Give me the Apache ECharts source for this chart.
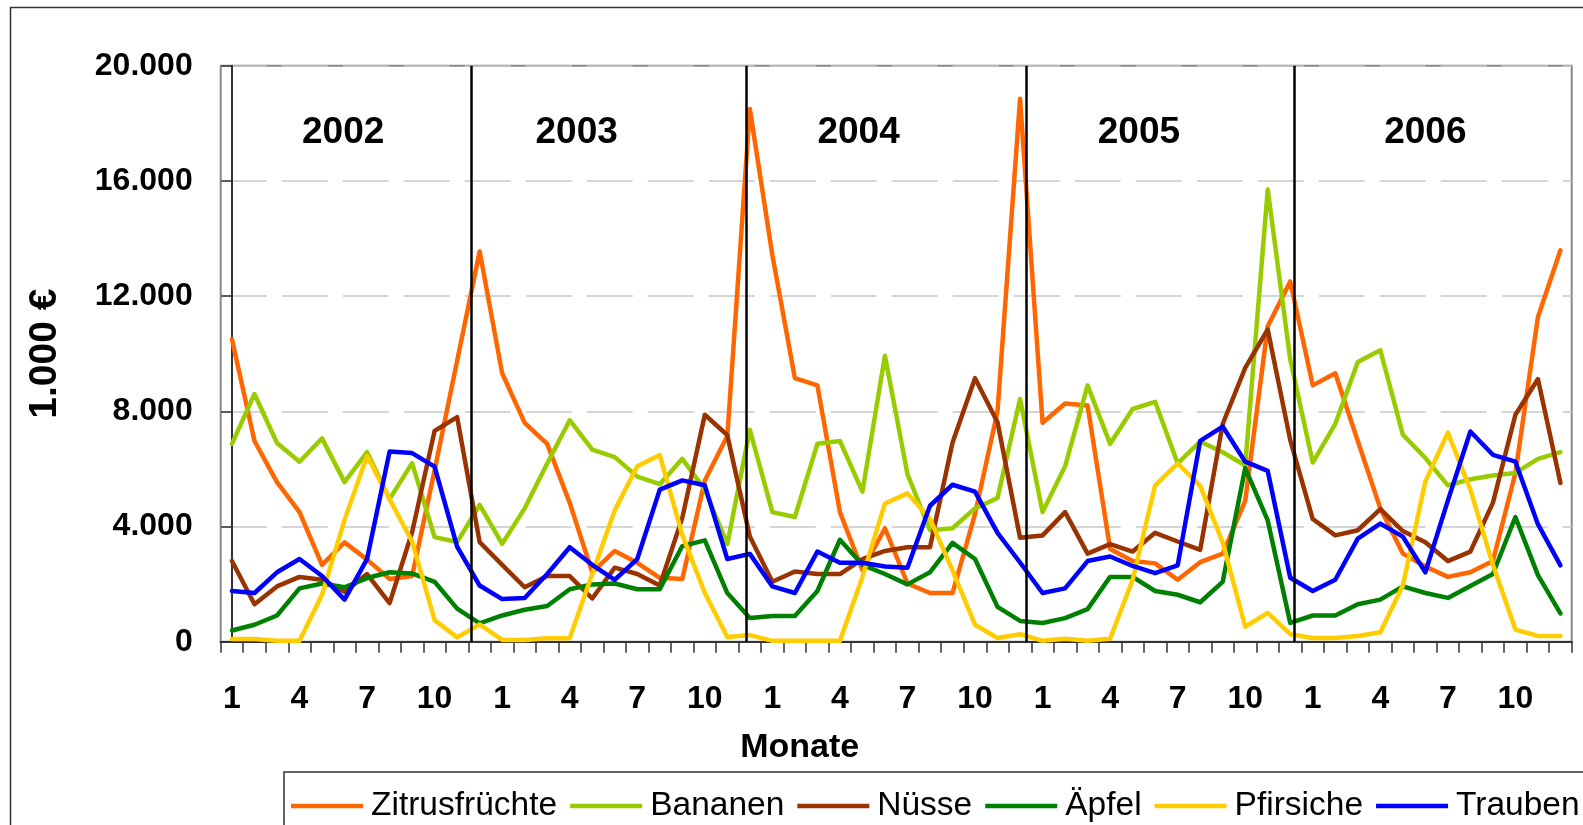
<!DOCTYPE html>
<html>
<head>
<meta charset="utf-8">
<script src="https://cdn.jsdelivr.net/npm/echarts@6/dist/echarts.min.js"></script>
<style>
html,body{margin:0;padding:0;background:#fff;}
#chart{width:1583px;height:825px;}
</style>
</head>
<body>
<div id="chart"></div>
<script>
var years = ['2002', '2003', '2004', '2005', '2006'];
var months = [1, 2, 3, 4, 5, 6, 7, 8, 9, 10, 11, 12];
var yTicks = [0, 4000, 8000, 12000, 16000, 20000];

var zitrus = [
  10500, 6970, 5540, 4500, 2670, 3450, 2850, 2180, 2280, 5950, 9750, 13550,
  9320, 7600, 6870, 4820, 2410, 3150, 2740, 2220, 2180, 5600, 7140, 18500,
  13420, 9150, 8900, 4500, 2480, 3940, 2020, 1690, 1690, 4430, 8000, 18850,
  7600, 8270, 8200, 3220, 2800, 2720, 2150, 2760, 3060, 4890, 10950, 12510,
  8900, 9320, 6970, 4630, 3060, 2610, 2250, 2410, 2800, 5860, 11270, 13590
];
var bananen = [
  6870, 8600, 6900, 6250, 7060, 5540, 6580, 4950, 6200, 3630, 3460, 4750,
  3400, 4630, 6190, 7690, 6670, 6410, 5730, 5470, 6350, 5280, 3390, 7360,
  4500, 4330, 6870, 6970, 5210, 9930, 5820, 3870, 3940, 4630, 4990, 8430,
  4500, 6090, 8900, 6870, 8080, 8330, 6190, 6950, 6580, 6120, 15700, 9800,
  6220, 7560, 9710, 10120, 7190, 6380, 5430, 5640, 5770, 5860, 6350, 6580
];
var nuesse = [
  2800, 1300, 1920, 2250, 2150, 1730, 2350, 1340, 3800, 7320, 7800, 3460,
  2670, 1890, 2280, 2280, 1500, 2570, 2350, 1950, 4300, 7880, 7170, 3650,
  2080, 2440, 2350, 2350, 2870, 3150, 3280, 3280, 6910, 9150, 7620, 3610,
  3690, 4500, 3060, 3390, 3130, 3780, 3480, 3190, 7560, 9510, 10840, 7000,
  4260, 3690, 3870, 4600, 3840, 3450, 2800, 3130, 4820, 7880, 9120, 5510
];
var aepfel = [
  390, 590, 910, 1850, 2020, 1890, 2210, 2410, 2370, 2080, 1150, 640,
  910, 1110, 1240, 1820, 1990, 2020, 1820, 1820, 3320, 3520, 1690, 820,
  890, 890, 1760, 3540, 2670, 2350, 1990, 2410, 3430, 2870, 1210, 720,
  650, 820, 1130, 2250, 2250, 1760, 1630, 1370, 2080, 6030, 4210, 650,
  910, 910, 1300, 1460, 1920, 1690, 1520, 1930, 2350, 4330, 2310, 980
];
var pfirsiche = [
  90, 90, 30, 30, 1630, 4230, 6450, 4950, 3480, 750, 150, 600,
  60, 60, 120, 120, 2350, 4560, 6090, 6480, 3710, 1690, 160, 230,
  30, 30, 30, 30, 2250, 4800, 5150, 4270, 2480, 590, 130, 260,
  30, 100, 30, 100, 2150, 5430, 6190, 5410, 3450, 520, 1000, 260,
  130, 130, 200, 330, 1950, 5560, 7260, 5280, 2670, 420, 200, 200
];
var trauben = [
  1760, 1690, 2410, 2870, 2280, 1460, 2870, 6600, 6550, 6080, 3300, 1950,
  1480, 1520, 2350, 3280, 2670, 2150, 2870, 5280, 5600, 5430, 2870, 3050,
  1920, 1690, 3130, 2740, 2740, 2610, 2570, 4720, 5450, 5210, 3780, 2750,
  1690, 1850, 2800, 2960, 2630, 2380, 2650, 6970, 7470, 6250, 5930, 2220,
  1760, 2150, 3580, 4100, 3650, 2410, 4900, 7300, 6490, 6250, 4080, 2650
];

var seriesNames = ['Zitrusfrüchte', 'Bananen', 'Nüsse', 'Äpfel', 'Pfirsiche', 'Trauben'];
var seriesData = [zitrus, bananen, nuesse, aepfel, pfirsiche, trauben];
var colors = ['#FF6600', '#99CC00', '#993300', '#008000', '#FFCC00', '#0000FF'];

var categories = [];
years.forEach(function (y) { months.forEach(function (m) { categories.push(y + '-' + m); }); });

// layout (position of year separators and year titles in category-index units)
var sepPos = [10.61, 22.86, 35.28, 47.16];
var yearPos = [4.94, 15.31, 27.83, 40.28, 53.0];
var yearLabelY = 17670;

var FONT = '"Liberation Sans", Arial, sans-serif';

var series = seriesNames.map(function (n, k) {
  return {
    name: n, type: 'line', data: seriesData[k], symbol: 'none', showSymbol: false,
    xAxisIndex: 0, yAxisIndex: 0,
    lineStyle: { color: colors[k], width: 4.5, join: 'round', cap: 'round' },
    itemStyle: { color: colors[k] },
    emphasis: { disabled: true }, animation: false
  };
});
series.push({
  name: 'years', type: 'line', xAxisIndex: 1, yAxisIndex: 0, data: [], silent: true, animation: false,
  markLine: {
    silent: true, symbol: ['none', 'none'], animation: false,
    label: { show: false },
    lineStyle: { color: '#000', width: 2.5, type: 'solid' },
    data: sepPos.map(function (p) { return { xAxis: p }; })
  },
  markPoint: {
    silent: true, animation: false, symbol: 'rect', symbolSize: 1,
    itemStyle: { color: 'rgba(0,0,0,0)' },
    label: { show: true, position: 'inside', formatter: '{b}', color: '#000', fontSize: 37, fontWeight: 'bold', fontFamily: FONT },
    data: years.map(function (y, k) { return { name: y, coord: [yearPos[k], yearLabelY] }; })
  }
});

var chart = echarts.init(document.getElementById('chart'), null, { renderer: 'canvas' });
chart.setOption({
  animation: false,
  backgroundColor: '#fff',
  textStyle: { fontFamily: FONT },
  graphic: [{
    type: 'rect', silent: true, z: -10,
    shape: { x: 10.5, y: 7.5, width: 1700, height: 1000 },
    style: { fill: 'none', stroke: '#333', lineWidth: 1.5 }
  }],
  grid: {
    left: 220.7, right: 11.3, top: 65.7, bottom: 183.3,
    show: true, borderColor: '#888', borderWidth: 2, backgroundColor: 'transparent'
  },
  legend: {
    data: seriesNames, left: 284, top: 772, width: 1400,
    padding: [17, 12, 12, 7], itemGap: 13, itemWidth: 72, itemHeight: 4.5, icon: 'rect',
    borderColor: '#333', borderWidth: 1.5, backgroundColor: '#fff',
    textStyle: { fontSize: 33.5, color: '#000', fontFamily: FONT, padding: [0, 0, 0, 3] },
    selectedMode: false
  },
  xAxis: [{
    type: 'category', data: categories, boundaryGap: true, gridIndex: 0,
    axisLine: { show: true, lineStyle: { color: '#333', width: 2 } },
    axisTick: { show: true, interval: 0, length: 11, lineStyle: { color: '#333', width: 1.5 } },
    axisLabel: {
      interval: 2, margin: 41, color: '#000', fontSize: 32, fontWeight: 'bold', fontFamily: FONT,
      formatter: function (v) { return v.split('-')[1]; }
    },
    splitLine: { show: false },
    name: 'Monate', nameLocation: 'middle', nameGap: 89,
    nameTextStyle: { fontSize: 34, fontWeight: 'bold', color: '#000', fontFamily: FONT, padding: [0, 193, 0, 0] }
  }, {
    type: 'value', min: -0.5, max: 59.5, show: false, gridIndex: 0,
    axisLine: { show: false }, axisTick: { show: false }, axisLabel: { show: false }, splitLine: { show: false }
  }],
  yAxis: {
    type: 'value', min: yTicks[0], max: yTicks[yTicks.length - 1], interval: yTicks[1] - yTicks[0],
    axisLine: { show: true, lineStyle: { color: '#333', width: 2 } },
    axisTick: { show: true, length: 11, lineStyle: { color: '#333', width: 1.5 } },
    axisLabel: {
      margin: 28, color: '#000', fontSize: 32, fontWeight: 'bold', fontFamily: FONT,
      formatter: function (v) { return v === 0 ? '0' : (v / 1000) + '.000'; }
    },
    splitLine: { show: true, lineStyle: { color: '#c8c8c8', width: 1.5, type: [46, 15] } },
    name: '1.000 €', nameLocation: 'middle', nameGap: 156, nameRotate: 90,
    nameTextStyle: { fontSize: 39, fontWeight: 'bold', color: '#000', fontFamily: FONT }
  },
  series: series
});
</script>
</body>
</html>
